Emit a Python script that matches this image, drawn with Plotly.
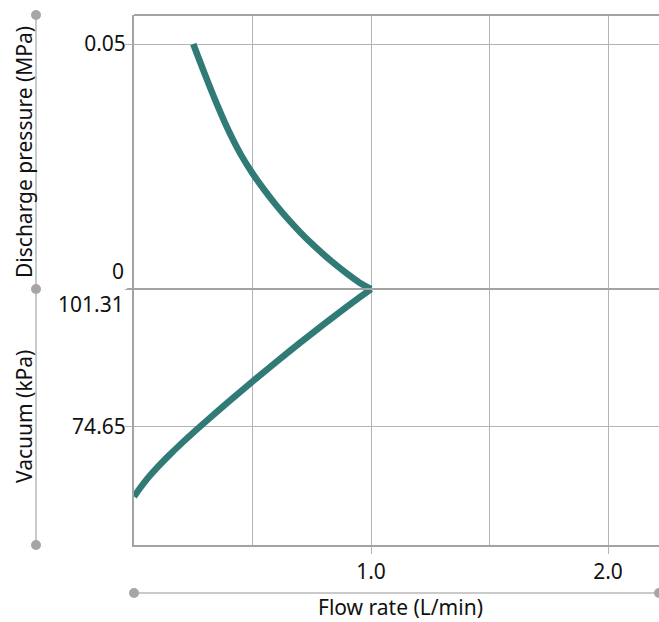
import plotly.graph_objects as go

# ---- data ----
discharge_flow = [0.25, 0.30, 0.35, 0.40, 0.45, 0.50, 0.55, 0.60, 0.65, 0.70, 0.75,
                  0.80, 0.85, 0.90, 0.95, 1.0]
discharge_mpa = [0.0500, 0.0437, 0.0377, 0.0322, 0.0275, 0.0236, 0.0202, 0.0171, 0.01425,
                 0.01165, 0.00925, 0.00705, 0.0050, 0.0031, 0.00135, 0.0]
vacuum_flow = [1.0, 0.95, 0.90, 0.85, 0.80, 0.75, 0.70, 0.65, 0.60, 0.55, 0.50,
               0.45, 0.40, 0.35, 0.30, 0.25, 0.20, 0.15, 0.10, 0.05, 0.0]
vacuum_kpa = [101.31, 99.64, 97.94, 96.21, 94.46, 92.69, 90.89, 89.06, 87.21, 85.34, 83.44,
              81.51, 79.56, 77.59, 75.59, 73.56, 71.46, 69.26, 66.91, 64.31, 61.21]

x_tick_vals = [1.0, 2.0]
x_tick_text = ["1.0", "2.0"]
discharge_tick_vals = [0.05, 0.0]
discharge_tick_text = ["0.05", ""]
vacuum_tick_vals = [74.65, 101.31]
vacuum_tick_text = ["74.65", ""]

LINE = "#317b76"
GRID = "#b4b4b4"
FRAME = "#a3a3a3"
DECO = "#b8b8b8"
DOT = "#a6a6a6"
FONT = "Noto Sans"
TXT = "#111111"
FS = 21

W, H = 659, 622
ML, MR, MT, MB = 134, 0, 15, 77
PW = W - ML - MR
PH = H - MT - MB
split = (545 - 289) / PH

fig = go.Figure()
fig.add_trace(go.Scatter(x=discharge_flow, y=discharge_mpa, xaxis="x", yaxis="y",
                         mode="lines", line=dict(color=LINE, width=6.5, shape="spline", smoothing=1),
                         hoverinfo="skip", showlegend=False))
fig.add_trace(go.Scatter(x=vacuum_flow, y=vacuum_kpa, xaxis="x", yaxis="y2",
                         mode="lines", line=dict(color=LINE, width=6.5, shape="spline", smoothing=1),
                         hoverinfo="skip", showlegend=False))

tickfont = dict(family=FONT, size=FS, color=TXT)

fig.update_layout(
    width=W, height=H,
    margin=dict(l=ML, r=MR, t=MT, b=MB, pad=0),
    paper_bgcolor="white", plot_bgcolor="white",
    font=dict(family=FONT, size=FS, color=TXT),
    xaxis=dict(domain=[0, 1], anchor="y2", range=[0, 2.215],
               tickmode="array", tickvals=x_tick_vals, ticktext=x_tick_text,
               ticks="outside", ticklen=7, tickwidth=1, tickcolor=GRID,
               showline=True, linecolor=FRAME, linewidth=2,
               showgrid=True, gridcolor=GRID, gridwidth=1, zeroline=False,
               minor=dict(tick0=0, dtick=0.5, showgrid=True, gridcolor=GRID, gridwidth=1, ticks=""),
               tickfont=tickfont, ticklabelstandoff=0),
    yaxis=dict(domain=[split, 1], anchor="x", range=[0, 0.05592],
               tickmode="array", tickvals=discharge_tick_vals, ticktext=discharge_tick_text,
               ticks="outside", ticklen=7, tickwidth=1, tickcolor=GRID,
               showline=True, linecolor=FRAME, linewidth=2,
               showgrid=True, gridcolor=GRID, gridwidth=1, zeroline=False,
               tickfont=tickfont, ticklabelstandoff=-5),
    yaxis2=dict(domain=[0, split], anchor="x", range=[51.85, 101.31],
                tickmode="array", tickvals=vacuum_tick_vals, ticktext=vacuum_tick_text,
                ticks="outside", ticklen=7, tickwidth=1, tickcolor=GRID,
                showline=True, linecolor=FRAME, linewidth=2,
                showgrid=True, gridcolor=GRID, gridwidth=1, zeroline=False,
                tickfont=tickfont, ticklabelstandoff=-5),
)

def px_x(px):
    return (px - ML) / PW

def px_y(py):
    return (H - MB - py) / PH

shapes = []
shapes.append(dict(type="line", xref="paper", yref="paper", x0=0, x1=1, y0=1, y1=1,
                   line=dict(color=FRAME, width=2)))
shapes.append(dict(type="line", xref="paper", yref="paper", x0=px_x(127), x1=1, y0=split, y1=split,
                   line=dict(color=FRAME, width=2)))
lx = px_x(36)
shapes.append(dict(type="line", xref="paper", yref="paper", x0=lx, x1=lx, y0=0, y1=1,
                   line=dict(color=DECO, width=1.5), layer="below"))
by = px_y(593)
shapes.append(dict(type="line", xref="paper", yref="paper", x0=0, x1=1, y0=by, y1=by,
                   line=dict(color=DECO, width=1.5), layer="below"))
r = 5
for (cx, cy) in [(36, 15), (36, 289), (36, 545), (134, 593), (659, 593)]:
    shapes.append(dict(type="circle", xref="paper", yref="paper",
                       x0=px_x(cx - r), x1=px_x(cx + r), y0=px_y(cy + r), y1=px_y(cy - r),
                       fillcolor=DOT, line=dict(width=0)))
fig.update_layout(shapes=shapes)

annotations = [
    dict(text="0", xref="paper", yref="y", x=0, y=0, xanchor="right", yanchor="bottom",
         xshift=-8, yshift=2, showarrow=False, font=tickfont),
    dict(text="101.31", xref="paper", yref="y2", x=0, y=101.31, xanchor="right", yanchor="top",
         xshift=-8, yshift=1, showarrow=False, font=tickfont),
    dict(text="Discharge pressure (MPa)", xref="paper", yref="paper", x=px_x(24), y=px_y(152),
         xanchor="center", yanchor="middle", textangle=-90, showarrow=False,
         font=dict(family=FONT, size=FS, color=TXT)),
    dict(text="Vacuum (kPa)", xref="paper", yref="paper", x=px_x(24), y=px_y(417),
         xanchor="center", yanchor="middle", textangle=-90, showarrow=False,
         font=dict(family=FONT, size=FS, color=TXT)),
    dict(text="Flow rate (L/min)", xref="paper", yref="paper", x=px_x(400), y=px_y(607),
         xanchor="center", yanchor="middle", showarrow=False,
         font=dict(family=FONT, size=FS, color=TXT)),
]
fig.update_layout(annotations=annotations)

fig.write_html("out.html", config={"displayModeBar": False},
               post_script="document.body.style.margin='0';document.body.style.padding='0';document.documentElement.style.overflow='hidden';")
